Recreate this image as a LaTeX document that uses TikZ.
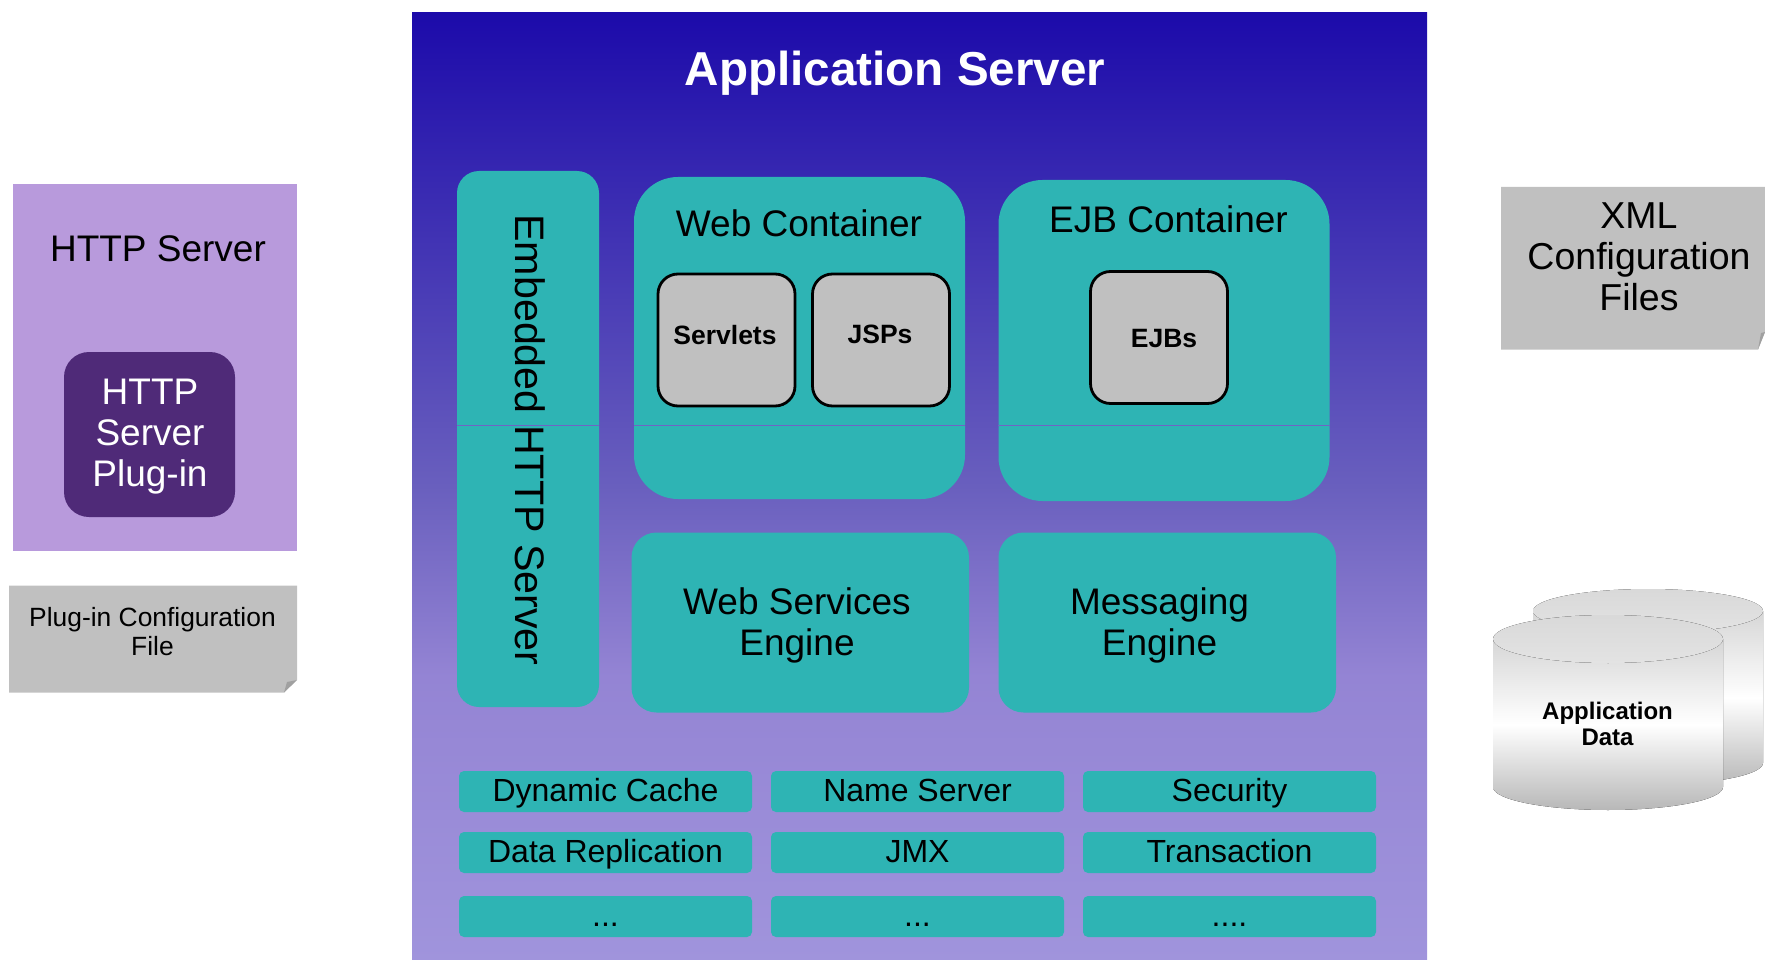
\documentclass[tikz,border=0pt]{standalone}
\usepackage{fontspec}
\setmainfont{Liberation Sans}
\definecolor{tealbox}{RGB}{46,180,180}
\definecolor{pagegrey}{RGB}{192,192,192}
\definecolor{foldgrey}{RGB}{160,160,160}
\definecolor{httpbg}{RGB}{184,154,220}
\definecolor{plugbg}{RGB}{79,42,120}
\definecolor{sepcol}{RGB}{112,100,196}
\pgfdeclareverticalshading{servershade}{100bp}{
  rgb(0bp)=(.627,.58,.863); rgb(25bp)=(.627,.58,.863);
  rgb(40bp)=(.58,.518,.831); rgb(50bp)=(.412,.373,.745);
  rgb(75bp)=(.11,.04,.667); rgb(100bp)=(.11,.04,.667)}
\tikzset{
    box/.style={rectangle, draw=none, inner sep=0pt, fill=tealbox},
    bigbox/.style={box, rounded corners=44pt},
    midbox/.style={box, rounded corners=25pt},
    smallbox/.style={box, rounded corners=5pt, minimum width=293pt, minimum height=41pt,
    	text height=24pt, text depth=5pt, font=\fontsize{32}{36}\selectfont},
    greybox/.style={rectangle, draw=black, line width=2.8pt, fill=pagegrey, rounded corners=20pt,
    	minimum width=137pt, minimum height=132pt},
    caption/.style={draw=none, fill=none, inner sep=0pt, align=center,
    	font=\fontsize{37}{41}\selectfont},
    boldcap/.style={caption, font=\fontsize{26.5}{30}\selectfont\bfseries},
    sepline/.style={draw=sepcol, line width=.8pt},
    fold/.style={fill=foldgrey}
}
\begin{document}
\begin{tikzpicture}[x=1pt, y=-1pt]
  \useasboundingbox (0,0) rectangle (1765,960);

  \node (server) [rectangle, inner sep=0pt, shading=servershade,
    minimum width=1015pt, minimum height=948pt] at (919.5, 486.5) {};
  \node (title) [caption, text=white, font=\fontsize{47.6}{52}\selectfont\bfseries] at (895, 73) {Application Server};

  % left side
  \node (http) [rectangle, fill=httpbg, inner sep=0pt, minimum width=284pt, minimum height=367pt] at (155, 367.5) {};
  \node (httpT) [caption] at (158, 249) {HTTP Server};
  \node (plug) [rectangle, fill=plugbg, inner sep=0pt, rounded corners=25pt,
    minimum width=171pt, minimum height=165pt] at (149.5, 434.5) {};
  \node (plugT) [caption, text=white] at (150, 437) {HTTP\\Server\\Plug-in};

  \fill [pagegrey] (9,585.5) -- (297,585.5) -- (297,680) -- (284,692.5) -- (9,692.5) -- cycle;
  \fill [fold] (297,680) -- (284,692.5) -- (287,682) -- cycle;
  \node (plugcfg) [caption, font=\fontsize{26.4}{29}\selectfont] at (152.5, 632) {Plug-in Configuration\\File};

  % right side
  \fill [pagegrey] (1501,187) -- (1765,187) -- (1765,332) -- (1758,349.5) -- (1501,349.5) -- cycle;
  \fill [fold] (1765,332) -- (1758,349.5) -- (1761,333) -- cycle;
  \node (xml) [caption, font=\fontsize{37.5}{41}\selectfont] at (1639, 257) {XML\\Configuration\\Files};

  % back cylinder
  \fill [top color=black!16, bottom color=black!28, middle color=white]
    (1533,611) -- (1533,763) arc [x radius=115, y radius=22, start angle=180, end angle=0]
    -- (1763,611) -- cycle;
  \fill [top color=black!15, bottom color=black!11] (1648,611) ellipse [x radius=115, y radius=22];
  % front cylinder
  \fill [top color=black!16, bottom color=black!28, middle color=white]
    (1493,639) -- (1493,787) arc [x radius=115, y radius=23, start angle=180, end angle=0]
    -- (1723,639) -- cycle;
  \fill [top color=black!15, bottom color=black!11] (1608,639) ellipse [x radius=115, y radius=24];
  \node (data) [boldcap, font=\fontsize{24}{26}\selectfont\bfseries] at (1607.5, 724) {Application\\Data};

  % containers
  \node (embedded) [box, rounded corners=22pt, minimum width=142pt, minimum height=536pt] at (528, 439) {};
  \node (embeddedT) [caption, rotate=-90, font=\fontsize{41.2}{45}\selectfont] at (530, 440) {Embedded HTTP Server};

  \node (web) [bigbox, minimum width=331pt, minimum height=322pt] at (799.5, 338) {};
  \node (webT) [caption] at (799, 223) {Web Container};
  \node (servlets) [greybox] at (726.5, 340) {};
  \node (servletsT) [boldcap] at (725, 335) {Servlets};
  \node (jsps) [greybox] at (881, 340) {};
  \node (jspsT) [boldcap] at (880, 334) {JSPs};

  \node (ejb) [bigbox, minimum width=331pt, minimum height=321pt] at (1164, 340.5) {};
  \node (ejbT) [caption] at (1168.5, 219.5) {EJB Container};
  \node (ejbs) [greybox] at (1159, 337.5) {};
  \node (ejbsT) [boldcap] at (1164, 339) {EJBs};

  \coordinate (sep) at (0, 425.5);
  \foreach \b in {embedded, web, ejb}
    \draw [sepline] (\b.west |- sep) -- (\b.east |- sep);

  \node (wse) [midbox, minimum width=337.5pt, minimum height=180pt] at (800.25, 622.5) {};
  \node (wseT) [caption] at (797, 625) {Web Services\\Engine};
  \node (msg) [midbox, minimum width=337.5pt, minimum height=180pt] at (1167.25, 622.5) {};
  \node (msgT) [caption] at (1159.5, 625) {Messaging\\Engine};

  % services
  \node (cache) [smallbox] at (605.5, 791.5) {Dynamic Cache};
  \node (names) [smallbox] at (917.5, 791.5) {Name Server};
  \node (sec) [smallbox] at (1229.5, 791.5) {Security};
  \node (repl) [smallbox] at (605.5, 852.5) {Data Replication};
  \node (jmx) [smallbox] at (917.5, 852.5) {JMX};
  \node (trans) [smallbox] at (1229.5, 852.5) {Transaction};
  \node (more1) [smallbox] at (605.5, 916.5) {...};
  \node (more2) [smallbox] at (917.5, 916.5) {...};
  \node (more3) [smallbox] at (1229.5, 916.5) {....};
\end{tikzpicture}
\end{document}
